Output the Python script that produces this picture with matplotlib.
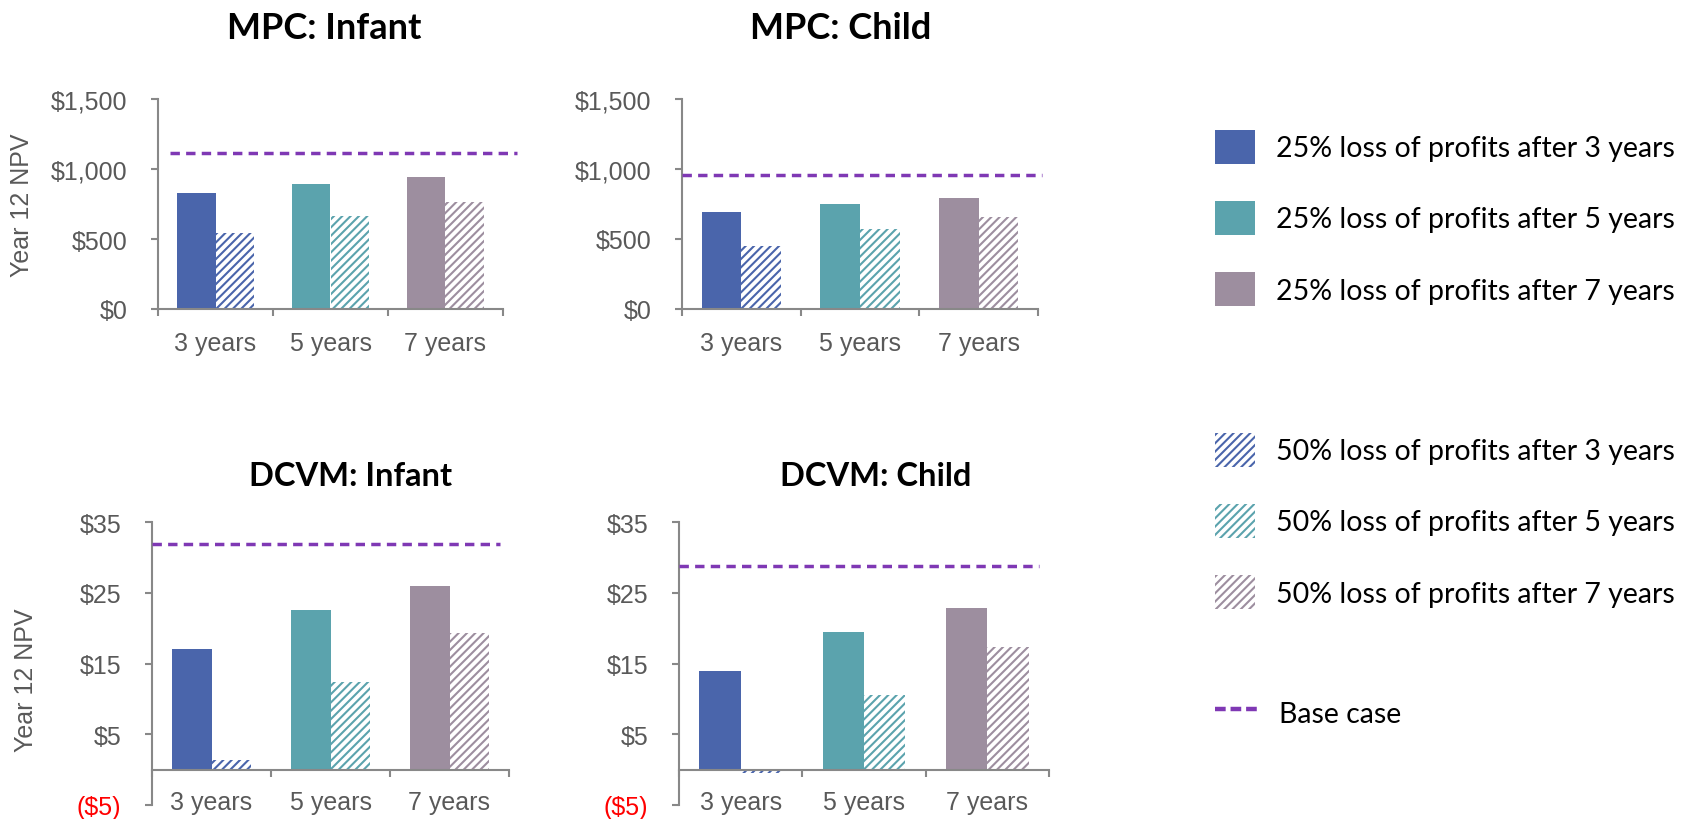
import matplotlib.pyplot as plt
from matplotlib.patches import Patch
from matplotlib.lines import Line2D
import numpy as np

plt.rcParams['font.family'] = 'Liberation Sans'
plt.rcParams['hatch.linewidth'] = 1.5

categories = ["3 years", "5 years", "7 years"]

# year 12 NPV
mpc_infant_25 = [830, 895, 945]
mpc_infant_50 = [545, 665, 765]
mpc_infant_base = 1115
mpc_child_25 = [690, 747, 790]
mpc_child_50 = [446, 568, 652]
mpc_child_base = 957
dcvm_infant_25 = [17.1, 22.6, 26.0]
dcvm_infant_50 = [1.4, 12.4, 19.3]
dcvm_infant_base = 32.0
dcvm_child_25 = [14.0, 19.5, 22.9]
dcvm_child_50 = [-0.45, 10.5, 17.4]
dcvm_child_base = 28.8

mpc_ticks = [0, 500, 1000, 1500]
dcvm_ticks = [-5, 5, 15, 25, 35]

titles = ["MPC: Infant", "MPC: Child", "DCVM: Infant", "DCVM: Child"]
labels_25 = ["25% loss of profits after 3 years",
             "25% loss of profits after 5 years",
             "25% loss of profits after 7 years"]
labels_50 = ["50% loss of profits after 3 years",
             "50% loss of profits after 5 years",
             "50% loss of profits after 7 years"]
label_base = "Base case"

colors = ['#4a65ab', '#5ba3ad', '#9d8e9f']
purple = '#7f38b4'
gray = '#595959'
axis_gray = '#888888'
W, H = 1688, 820


def money(v):
    s = f"${abs(v):,.0f}"
    return f"({s})" if v < 0 else s


def panel(rect, solid, hatched, base, ticks, span, low_labels):
    ax = fig.add_axes(rect)
    x = np.arange(len(categories))
    w = 0.335
    ax.bar(x - w / 2, solid, w, color=colors, linewidth=0)
    ax.bar(x + w / 2, hatched, w, facecolor='white', edgecolor=colors,
           hatch='////', linewidth=0)
    ax.hlines(base, span[0], span[1], colors=purple, lw=2.5,
              linestyles=(0, (2.7, 1.8)), clip_on=False, zorder=3)
    ax.set_xlim(-0.5, 2.5)
    ax.set_ylim(ticks[0], ticks[-1])
    for s in ['top', 'right']:
        ax.spines[s].set_visible(False)
    for s in ['left', 'bottom']:
        ax.spines[s].set_color(axis_gray)
        ax.spines[s].set_linewidth(1.5)
    ax.set_yticks(ticks, [money(t) for t in ticks])
    for lab, t in zip(ax.get_yticklabels(), ticks):
        lab.set_color('red' if t < 0 else gray)
    ax.tick_params(axis='y', length=5, width=1.5, color=axis_gray, pad=17,
                   labelsize=18)
    ax.set_xticks([-0.5, 0.5, 1.5, 2.5], [])
    ax.tick_params(axis='x', which='major', length=5, width=1.5,
                   color=axis_gray)
    if low_labels:
        ax.spines['bottom'].set_position(('data', 0))
        for i, c in enumerate(categories):
            ax.text(i, ticks[0] + 0.4, c, ha='center', va='center',
                    fontsize=18, color=gray)
    else:
        ax.set_xticks(x, categories, minor=True)
        ax.tick_params(axis='x', which='minor', length=0, pad=16,
                       labelsize=18, labelcolor=gray)
    return ax


fig = plt.figure(figsize=(W / 100, H / 100), dpi=100)

panel([158 / W, 1 - 310 / H, 345 / W, 210 / H], mpc_infant_25, mpc_infant_50,
      mpc_infant_base, mpc_ticks, (-0.4, 2.62), False)
panel([682 / W, 1 - 309.5 / H, 356 / W, 209.5 / H], mpc_child_25, mpc_child_50,
      mpc_child_base, mpc_ticks, (-0.5, 2.535), False)
panel([152 / W, 1 - 806 / H, 357 / W, 282.7 / H], dcvm_infant_25, dcvm_infant_50,
      dcvm_infant_base, dcvm_ticks, (-0.5, 2.425), True)
panel([679 / W, 1 - 806 / H, 370 / W, 282.7 / H], dcvm_child_25, dcvm_child_50,
      dcvm_child_base, dcvm_ticks, (-0.5, 2.42), True)

title_pos = [(324.5, 39.3, 26), (841, 39.3, 26), (350.4, 486, 23.5), (876, 486, 23.5)]
for t, (tx, ty, fs) in zip(titles, title_pos):
    fig.text(tx / W, 1 - ty / H, t, ha='center', va='baseline', fontsize=fs,
             fontweight='bold', family='Lato')

fig.text(22.5 / W, 1 - 205 / H, "Year 12 NPV", rotation=90, ha='center',
         va='center', fontsize=18, color=gray)
fig.text(26 / W, 1 - 680 / H, "Year 12 NPV", rotation=90, ha='center',
         va='center', fontsize=18, color=gray)

h25 = [Patch(facecolor=c, linewidth=0) for c in colors]
h50 = [Patch(facecolor='white', edgecolor=c, hatch='////', linewidth=0)
       for c in colors]
hbase = [Line2D([], [], color=purple, lw=3.2, dashes=(2.4, 1.1))]

for handles, labels, yc, hl in [(h25, labels_25, 219, 1.405),
                                (h50, labels_50, 522, 1.405),
                                (hbase, [label_base], 714, 1.51)]:
    fig.legend(handles, labels, loc='center left',
               bbox_to_anchor=(1215 / W, 1 - yc / H), frameon=False,
               borderpad=0, borderaxespad=0, handlelength=hl,
               handleheight=1.465, handletextpad=0.75, labelspacing=1.3,
               prop={'family': 'Lato', 'size': 20.5})

fig.savefig('out.png', dpi=100)
